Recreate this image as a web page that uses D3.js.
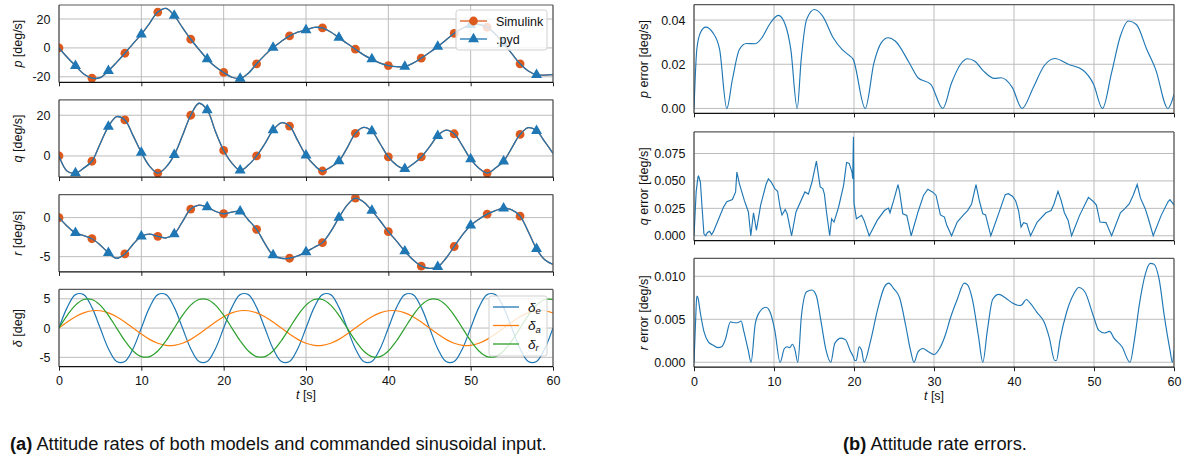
<!DOCTYPE html>
<html><head><meta charset="utf-8">
<script src="https://cdn.jsdelivr.net/npm/d3@7"></script>
<style>
html,body{margin:0;padding:0;background:#fff;}
svg{display:block;font-family:"Liberation Sans",Arial,Helvetica,sans-serif;}
</style></head><body>
<svg id="chart" width="1184" height="459"></svg>
<script>
// ---------------- data ----------------
const time = [0,1,2,3,4,5,6,7,8,9,10,11,12,13,14,15,16,17,18,19,20,21,22,23,24,25,26,27,28,29,30,31,32,33,34,35,36,37,38,39,40,41,42,43,44,45,46,47,48,49,50,51,52,53,54,55,56,57,58,59,60];
const pRate = [0,-6.5,-12.4,-18,-20.9,-20.6,-15.9,-10,-3.7,3,9.4,17,24.8,27.3,22.3,14,6,-1,-7.8,-13,-17,-20.3,-21.2,-17.5,-11,-5,0.2,4.5,8.3,11,12.4,14.2,13.8,11,7.1,3,-0.9,-4.8,-7.8,-10.5,-12.2,-13,-12.9,-10.5,-7.1,-3.2,0.9,5.5,10.1,13.6,15.9,16.2,14.3,9.5,3.2,-4,-11,-16,-18.6,-18.8,-18.5];
const qRate = [0,-7.5,-8.4,-6,-2.6,6,14.4,19.3,17.7,10,1.7,-5,-8.4,-5.5,0.5,10,20,25.9,22.6,12,2.7,-3.5,-7.1,-4.5,0,6,12.7,16.3,14.7,7.5,0.3,-4.5,-7.4,-5.5,-2.5,4,11.1,14,12.2,6,-0.5,-4.5,-6.3,-4,-0.5,4.5,9.9,12.7,10.9,5,-1.6,-6,-8.4,-6,-2.6,4,10.6,13.9,12.4,7,1.2];
const rRate = [0,-1.1,-1.96,-2.3,-2.7,-3.5,-4.5,-5.2,-4.65,-3.4,-2.4,-2.1,-2.4,-2.6,-2.1,-0.5,1.1,1.6,1.35,0.8,0.5,0.7,0.8,-0.3,-1.5,-3.3,-4.8,-5.2,-5.2,-4.9,-4.4,-3.8,-3.2,-1.8,0,1.6,2.5,2.0,0.9,-0.4,-1.8,-3.0,-4.3,-5.4,-6.2,-6.5,-6.3,-5.2,-3.7,-2.2,-1.0,-0.2,0.45,0.9,1.2,1.0,0.2,-1.8,-4.0,-5.4,-6.0];
const deltaE = [0,3.53,5.71,5.71,3.53,0,-3.53,-5.71,-5.71,-3.53,0,3.53,5.71,5.71,3.53,0,-3.53,-5.71,-5.71,-3.53,0,3.53,5.71,5.71,3.53,0,-3.53,-5.71,-5.71,-3.53,0,3.53,5.71,5.71,3.53,0,-3.53,-5.71,-5.71,-3.53,0,3.53,5.71,5.71,3.53,0,-3.53,-5.71,-5.71,-3.53,0,3.53,5.71,5.71,3.53,0,-3.53,-5.71,-5.71,-3.53,0];
const deltaA = [0,1.03,1.93,2.6,2.95,2.95,2.6,1.93,1.03,0,-1.03,-1.93,-2.6,-2.95,-2.95,-2.6,-1.93,-1.03,0,1.03,1.93,2.6,2.95,2.95,2.6,1.93,1.03,0,-1.03,-1.93,-2.6,-2.95,-2.95,-2.6,-1.93,-1.03,0,1.03,1.93,2.6,2.95,2.95,2.6,1.93,1.03,0,-1.03,-1.93,-2.6,-2.95,-2.95,-2.6,-1.93,-1.03,0,1.03,1.93,2.6,2.95,2.95,2.6];
const deltaR = [0,2.17,3.91,4.87,4.87,3.91,2.17,0,-2.17,-3.91,-4.87,-4.87,-3.91,-2.17,0,2.17,3.91,4.87,4.87,3.91,2.17,0,-2.17,-3.91,-4.87,-4.87,-3.91,-2.17,0,2.17,3.91,4.87,4.87,3.91,2.17,0,-2.17,-3.91,-4.87,-4.87,-3.91,-2.17,0,2.17,3.91,4.87,4.87,3.91,2.17,0,-2.17,-3.91,-4.87,-4.87,-3.91,-2.17,0,2.17,3.91,4.87,4.87];
const simulinkMarkerTimes = [0,4,8,12,16,20,24,28,32,36,40,44,48,52,56];
const pydMarkerTimes = [2,6,10,14,18,22,26,30,34,38,42,46,50,54,58];

const pErrTime = [0,0.35,0.8,1.46,2.35,3.2,4.1,4.8,5.67,6.55,7.66,8.55,9.43,10.54,11.4,12.1,12.9,13.4,14.08,15.06,16.08,17.4,18.5,19.4,19.9,21.4,22.5,23.4,24.27,25.15,26.9,28.0,29.6,31.1,32.2,33.3,34.2,35.1,36.2,37.55,38.4,39.8,41.0,42.4,43.75,45.1,46.85,48.6,49.95,51.06,52.2,53.3,54.3,55.3,56.6,57.7,59.25,60];
const pErr = [0,0.0267,0.0343,0.0368,0.0343,0.0267,0,0.0131,0.0267,0.0294,0.0293,0.0323,0.038,0.0421,0.038,0.0267,0,0.0222,0.0403,0.0448,0.0418,0.032,0.0267,0.024,0.0222,0,0.0207,0.0297,0.032,0.0305,0.0207,0.0139,0.0109,0,0.0116,0.0199,0.0225,0.0214,0.0169,0.0136,0.0139,0.0094,0,0.0094,0.0192,0.0226,0.0199,0.0174,0.0109,0,0.0162,0.0328,0.0396,0.038,0.0267,0.0177,0,0.0063];
const qErrTime = [0,0.27,0.5,0.58,0.8,1.02,1.24,1.46,1.68,1.95,2.2,2.44,3.0,3.68,4.1,4.8,5.2,5.36,5.67,6.3,6.8,7.1,7.44,7.8,8.33,9.0,9.3,9.65,10.1,10.45,10.76,11.0,11.4,11.65,12.2,12.75,13.86,14.3,14.75,15.3,15.77,16.1,16.3,16.56,16.96,17.2,17.5,18.07,18.7,19.07,19.4,19.75,19.84,19.93,20.0,20.3,20.95,21.26,21.9,22.9,23.8,24.3,24.5,24.95,25.5,25.7,26.1,26.6,27.15,28.0,28.7,29.23,29.8,30.25,30.8,31.3,31.6,32.2,32.9,33.8,34.2,34.7,35.25,35.7,36.1,36.45,37.1,38.0,38.9,39.3,39.8,40.2,40.57,40.88,41.2,41.6,42.07,42.9,44.0,44.64,45.0,45.5,45.9,46.3,46.77,47.2,48.2,49.3,49.95,50.3,50.75,51.5,52.2,53.3,53.85,54.4,54.9,55.4,55.8,56.4,56.8,57.4,58.4,59.25,59.5,60];
const qErr = [0,0.040,0.0537,0.0543,0.049,0.0247,0.0018,0,0.003,0.004,0.001,0.004,0.014,0.026,0.031,0.033,0.040,0.058,0.0476,0.032,0.0217,0,0.021,0.005,0.028,0.0467,0.052,0.049,0.043,0.0406,0.026,0.019,0.024,0.020,0,0.0217,0.040,0.038,0.049,0.068,0.0445,0.043,0.038,0.0217,0,0.0155,0.0125,0.026,0.046,0.0668,0.066,0.058,0.052,0.0902,0.03,0.0155,0.0186,0.014,0,0.014,0.023,0.0253,0.021,0.032,0.0467,0.040,0.020,0.0186,0,0.0217,0.037,0.0424,0.040,0.037,0.019,0.017,0.0095,0,0.0125,0.020,0.023,0.029,0.0467,0.031,0.020,0.019,0,0.0186,0.0375,0.0384,0.036,0.032,0.023,0.008,0.012,0.011,0,0.0125,0.021,0.023,0.029,0.0406,0.032,0.021,0.014,0,0.0186,0.035,0.031,0.028,0.0125,0.012,0,0.021,0.0247,0.029,0.037,0.0467,0.0345,0.0247,0.0155,0,0.0186,0.031,0.033,0.028];
const rErrTime = [0,0.22,0.35,0.49,0.8,1.24,1.77,2.35,3.0,3.45,3.9,4.56,5.0,5.45,5.9,6.2,6.78,7.13,7.66,8.24,9.0,9.57,10.1,10.76,11.3,11.65,11.96,12.3,12.58,12.98,13.42,14.08,14.75,15.3,15.85,16.5,17.1,17.6,18.4,18.95,19.5,19.93,20.1,20.28,20.64,20.95,21.26,22.05,22.94,23.83,24.36,24.93,25.7,26.5,27.06,27.5,28.0,28.6,29.36,30.0,30.7,31.5,32.0,32.9,33.8,34.2,34.8,35.56,36.1,36.67,37.33,38.1,38.9,39.8,40.66,41.0,41.54,42.0,42.87,43.75,44.4,45.1,45.3,45.75,46.6,47.5,48.1,48.85,49.95,50.6,51.3,51.95,52.5,53.5,54.5,55.05,55.7,56.4,57.04,57.5,58.15,58.8,59.5,59.8,60];
const rErr = [0,0.0053,0.0077,0.0075,0.0057,0.0036,0.0024,0.002,0.0017,0.0018,0.0026,0.0047,0.0046,0.0046,0.0048,0.0037,0.0014,0,0.0045,0.0059,0.0064,0.0057,0.0037,0,0.0016,0.0018,0.0017,0.0021,0.0016,0,0.0053,0.0082,0.0084,0.0077,0.0049,0.0014,0,0.0022,0.0028,0.0026,0.0014,0.0006,0.0002,0.0002,0.0018,0.0014,0,0.0024,0.0061,0.0088,0.0092,0.0086,0.0075,0.0041,0.0014,0,0.0012,0.0016,0.0012,0.0009,0.0016,0.0034,0.005,0.0073,0.0092,0.009,0.0073,0.003,0,0.0037,0.0073,0.0079,0.0075,0.0069,0.0066,0.0067,0.0073,0.0069,0.0058,0.0047,0.0029,0.0002,0.0002,0.0026,0.0059,0.008,0.0087,0.0082,0.0053,0.0037,0.0034,0.0036,0.0028,0.0018,0,0.0026,0.0069,0.0102,0.0115,0.0114,0.0096,0.0053,0.0014,0,0.0014];

const xTicks = [0,10,20,30,40,50,60];
const pTicks = [-20,0,20];
const qTicks = [0,20];
const rTicks = [-5,0];
const dTicks = [-5,0,5];
const pErrTicks = [0,0.02,0.04];
const qErrTicks = [0,0.025,0.05,0.075];
const rErrTicks = [0,0.005,0.01];

// ---------------- drawing ----------------
const BLUE = "#1f77b4", ORANGE = "#ff7f0e", GREEN = "#2ca02c", SIM = "#dd5a1e";
const FS = 12.5;
const svg = d3.select("#chart");
svg.append("rect").attr("width",1184).attr("height",459).attr("fill","#fff");
let clipId = 0;

function panel(o) {
  const x = d3.scaleLinear().domain([0,60]).range([o.x0,o.x1]);
  const y = d3.scaleLinear().domain(o.yDomain).range([o.y1,o.y0]);
  const g = svg.append("g");
  g.append("g").selectAll("line").data(xTicks).join("line")
    .attr("x1",d=>x(d)).attr("x2",d=>x(d)).attr("y1",o.y0).attr("y2",o.y1)
    .attr("stroke","#bcbcbc").attr("stroke-width",1);
  g.append("g").selectAll("line").data(o.yTicks).join("line")
    .attr("x1",o.x0).attr("x2",o.x1).attr("y1",d=>y(d)).attr("y2",d=>y(d))
    .attr("stroke","#bcbcbc").attr("stroke-width",1);
  const ax = g.append("g").attr("transform",`translate(0,${o.y1})`)
    .call(d3.axisBottom(x).tickValues(xTicks).tickSize(4).tickPadding(5.5)
      .tickFormat(o.showX ? d=>String(d) : ()=>""));
  ax.select(".domain").remove();
  ax.selectAll("line").attr("stroke","#222");
  ax.selectAll("text").attr("font-size",FS).attr("fill","#111")
    .attr("font-family",'"Liberation Sans",Arial,sans-serif');
  const ay = g.append("g").attr("transform",`translate(${o.x0},0)`)
    .call(d3.axisLeft(y).tickValues(o.yTicks).tickSize(0).tickPadding(8.5).tickFormat(o.fmt));
  ay.select(".domain").remove();
  ay.selectAll("text").attr("font-size",FS).attr("fill","#111")
    .attr("font-family",'"Liberation Sans",Arial,sans-serif');
  const id = "clip" + (clipId++);
  svg.append("clipPath").attr("id",id).append("rect")
    .attr("x",o.x0).attr("y",o.y0).attr("width",o.x1-o.x0).attr("height",o.y1-o.y0);
  const plot = svg.append("g").attr("clip-path",`url(#${id})`);
  const top = svg.append("g");
  top.append("line").attr("x1",o.x0).attr("x2",o.x1).attr("y1",o.y0).attr("y2",o.y0).attr("stroke","#5a5a5a").attr("stroke-width",1.2);
  top.append("line").attr("x1",o.x1).attr("x2",o.x1).attr("y1",o.y0).attr("y2",o.y1).attr("stroke","#5a5a5a").attr("stroke-width",1.2);
  top.append("line").attr("x1",o.x0).attr("x2",o.x0).attr("y1",o.y0).attr("y2",o.y1).attr("stroke","#333").attr("stroke-width",1);
  top.append("line").attr("x1",o.x0).attr("x2",o.x1).attr("y1",o.y1).attr("y2",o.y1).attr("stroke","#111").attr("stroke-width",1.2);
  const lbl = svg.append("text").attr("transform",`translate(${o.labelX},${(o.y0+o.y1)/2}) rotate(-90)`)
    .attr("text-anchor","middle").attr("font-size",FS).attr("fill","#111");
  lbl.append("tspan").attr("font-style","italic").text(o.sym);
  lbl.append("tspan").text(o.unit);
  if (o.showX) {
    const t = svg.append("text").attr("x",(o.x0+o.x1)/2).attr("y",o.y1+32.5)
      .attr("text-anchor","middle").attr("font-size",FS).attr("fill","#111");
    t.append("tspan").attr("font-style","italic").text("t");
    t.append("tspan").text(" [s]");
  }
  return {x,y,plot,top};
}

const intFmt = d => (d < 0 ? "-" : "") + Math.abs(d);
const LX0 = 59, LX1 = 553, RX0 = 694, RX1 = 1174;
const lTop = [5, 99.8, 194.6, 289.4], lH = 77.3;
const rTop = [4.6, 131.9, 258.4], rH = 108.8;

function rateLine(P, values) {
  return d3.line().x((d,i)=>P.x(time[i])).y(d=>P.y(d)).curve(d3.curveCatmullRom.alpha(0.5))(values);
}
function ratePanel(i, values, dom, ticks, sym) {
  const P = panel({x0:LX0,x1:LX1,y0:lTop[i],y1:lTop[i]+lH,yDomain:dom,yTicks:ticks,fmt:intFmt,
    showX:false,labelX:21.5,sym:sym,unit:" [deg/s]"});
  P.plot.append("path").attr("d",rateLine(P,values)).attr("fill","none").attr("stroke",SIM).attr("stroke-width",1.3);
  P.plot.append("g").selectAll("circle").data(simulinkMarkerTimes).join("circle")
    .attr("cx",d=>P.x(d)).attr("cy",d=>P.y(values[time.indexOf(d)])).attr("r",4.4).attr("fill",SIM);
  P.plot.append("path").attr("d",rateLine(P,values)).attr("fill","none").attr("stroke",BLUE).attr("stroke-width",1.3);
  P.plot.append("g").selectAll("path").data(pydMarkerTimes).join("path")
    .attr("d",d3.symbol(d3.symbolTriangle,52))
    .attr("transform",d=>`translate(${P.x(d)},${P.y(values[time.indexOf(d)])})`).attr("fill",BLUE);
  return P;
}
ratePanel(0, pRate, [-23.8,29.7], pTicks, "p");
ratePanel(1, qRate, [-10.4,27.6], qTicks, "q");
ratePanel(2, rRate, [-6.95,2.95], rTicks, "r");

// legend p panel
{
  const g = svg.append("g");
  g.append("rect").attr("x",456).attr("y",10).attr("width",91).attr("height",40).attr("rx",2.5)
    .attr("fill","#fff").attr("fill-opacity",0.8).attr("stroke","#d0d0d0");
  const items = [{name:"Simulink",c:SIM,m:"c",y:21},{name:".pyd",c:BLUE,m:"t",y:39}];
  items.forEach(it=>{
    g.append("line").attr("x1",460).attr("x2",487).attr("y1",it.y).attr("y2",it.y).attr("stroke",it.c).attr("stroke-width",1.3);
    if (it.m==="c") g.append("circle").attr("cx",473.5).attr("cy",it.y).attr("r",4.4).attr("fill",it.c);
    else g.append("path").attr("d",d3.symbol(d3.symbolTriangle,52)).attr("transform",`translate(473.5,${it.y})`).attr("fill",it.c);
    g.append("text").attr("x",496).attr("y",it.y+4.5).attr("font-size",FS).attr("fill","#111").text(it.name);
  });
}

// delta panel
{
  const P = panel({x0:LX0,x1:LX1,y0:lTop[3],y1:lTop[3]+lH,yDomain:[-6.6,6.6],yTicks:dTicks,fmt:intFmt,
    showX:true,labelX:21.5,sym:"δ",unit:" [deg]"});
  const series = [{v:deltaE,c:BLUE,s:"e"},{v:deltaA,c:ORANGE,s:"a"},{v:deltaR,c:GREEN,s:"r"}];
  series.forEach(s=>{
    P.plot.append("path").attr("d",rateLine(P,s.v)).attr("fill","none").attr("stroke",s.c).attr("stroke-width",1.2);
  });
  const g = svg.append("g");
  g.append("rect").attr("x",489).attr("y",296).attr("width",58).attr("height",60).attr("rx",2.5)
    .attr("fill","#fff").attr("fill-opacity",0.8).attr("stroke","#d0d0d0");
  series.forEach((s,i)=>{
    const yy = 307 + i*18.5;
    g.append("line").attr("x1",493).attr("x2",519).attr("y1",yy).attr("y2",yy).attr("stroke",s.c).attr("stroke-width",1.3);
    const t = g.append("text").attr("x",528).attr("y",yy+4.5).attr("font-size",13.5).attr("fill","#111").attr("font-style","italic");
    t.append("tspan").text("δ");
    t.append("tspan").attr("font-size",9.5).attr("dy",2.5).text(s.s);
  });
}

// error panels
function errPanel(i, tArr, vArr, dom, ticks, fmt, sym, curve) {
  const P = panel({x0:RX0,x1:RX1,y0:rTop[i],y1:rTop[i]+rH,yDomain:dom,yTicks:ticks,fmt:fmt,
    showX:i===2,labelX:648,sym:sym,unit:" error [deg/s]"});
  P.plot.append("path")
    .attr("d", d3.line().x((d,j)=>P.x(tArr[j])).y(d=>P.y(d)).curve(curve)(vArr))
    .attr("fill","none").attr("stroke",BLUE).attr("stroke-width",1.15);
}
errPanel(0, pErrTime, pErr, [-0.00224,0.047], pErrTicks, d3.format(".2f"), "p", d3.curveMonotoneX);
errPanel(1, qErrTime, qErr, [-0.0045,0.0947], qErrTicks, d3.format(".3f"), "q", d3.curveLinear);
errPanel(2, rErrTime, rErr, [-0.000575,0.01208], rErrTicks, d3.format(".3f"), "r", d3.curveMonotoneX);

// captions
const capA = svg.append("text").attr("x",10).attr("y",450).attr("font-size",18.3).attr("fill","#111");
capA.append("tspan").attr("font-weight","bold").text("(a)");
capA.append("tspan").text(" Attitude rates of both models and commanded sinusoidal input.");
const capB = svg.append("text").attr("x",843).attr("y",450).attr("font-size",18.3).attr("fill","#111");
capB.append("tspan").attr("font-weight","bold").text("(b)");
capB.append("tspan").text(" Attitude rate errors.");
</script>
</body></html>
